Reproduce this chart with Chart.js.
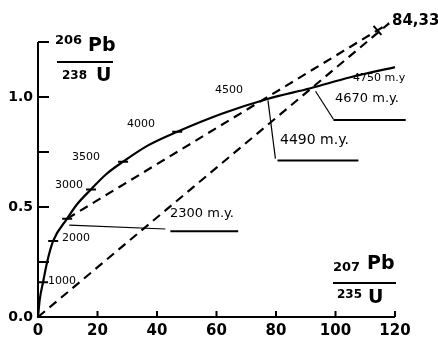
<!DOCTYPE html>
<html>
<head>
<meta charset="utf-8">
<script src="https://cdn.jsdelivr.net/npm/chart.js@4/dist/chart.umd.min.js"></script>
<style>
  body { margin: 0; background: #fff; }
  canvas { display: block; }
</style>
</head>
<body>
<canvas id="concordia" width="438" height="340"></canvas>
<script>
// concordia curve (207Pb/235U vs 206Pb/238U)
var concordiaX = [0, 0.6, 1.7, 3.0, 5.1, 9.8, 13, 17.8, 23, 28.6, 37, 46.8, 62, 77.1, 91.6, 105, 120];
var concordiaY = [0, 0.08, 0.158, 0.246, 0.346, 0.447, 0.51, 0.58, 0.65, 0.706, 0.78, 0.842, 0.925, 0.991, 1.04, 1.09, 1.136];

// age marks on the curve (m.y.)
var ageMarks = [1000, 2000, 2300, 3000, 3500, 4000];
var ageMarkX = [1.7, 5.1, 9.8, 17.8, 28.6, 46.8];
var ageMarkY = [0.158, 0.346, 0.447, 0.58, 0.706, 0.842];

// chords (dashed) to the sample point 84,33
var chordFromOriginX = [0, 118];
var chordFromOriginY = [0, 1.335];
var chordFrom2300X = [9.8, 118];
var chordFrom2300Y = [0.447, 1.335];
var sampleX = [114.1];
var sampleY = [1.303];

// leaders for the intercept labels
var leader2300X = [10.5, 42.8];
var leader2300Y = [0.418, 0.40];
var under2300X = [44.5, 67.3];
var under2300Y = [0.39, 0.39];
var leader4490X = [77.3, 79.8];
var leader4490Y = [0.985, 0.72];
var under4490X = [80.5, 107.7];
var under4490Y = [0.711, 0.711];
var leader4670X = [93.3, 99.3];
var leader4670Y = [1.026, 0.899];
var under4670X = [99.3, 123.6];
var under4670Y = [0.895, 0.895];

var xTicks = [20, 40, 60, 80, 100, 120];
var yTicks = [0.25, 0.5, 0.75, 1.0, 1.25];
var yLabels = [0, 0.5, 1.0];

function pts(xs, ys) {
    var out = [];
    for (var i = 0; i < xs.length; i++) out.push({x: xs[i], y: ys[i]});
    return out;
}

function solid(data, w) {
    return {data: data, borderColor: '#000', borderWidth: w, pointRadius: 0, fill: false, clip: false};
}

var FONT = '"DejaVu Sans", sans-serif';

// axes drawn inward, like the original figure
var axesPlugin = {
    id: 'axes',
    beforeDatasetsDraw: function(chart) {
        var ctx = chart.ctx, xs = chart.scales.x, ys = chart.scales.y;
        var x0 = xs.getPixelForValue(0), y0 = ys.getPixelForValue(0);
        ctx.save();
        ctx.strokeStyle = '#000';
        ctx.lineWidth = 2;
        ctx.beginPath();
        ctx.moveTo(x0, ys.getPixelForValue(1.25));
        ctx.lineTo(x0, y0);
        ctx.lineTo(xs.getPixelForValue(120), y0);
        var i;
        for (i = 0; i < xTicks.length; i++) {
            var px = xs.getPixelForValue(xTicks[i]);
            ctx.moveTo(px, y0);
            ctx.lineTo(px, y0 - 6);
        }
        for (i = 0; i < yTicks.length; i++) {
            var py = ys.getPixelForValue(yTicks[i]);
            ctx.moveTo(x0, py);
            ctx.lineTo(x0 + 11, py);
        }
        ctx.stroke();
        ctx.restore();
    },
    afterDraw: function(chart) {
        var ctx = chart.ctx;
        ctx.save();
        ctx.fillStyle = '#000';
        ctx.strokeStyle = '#000';
        ctx.textBaseline = 'middle';
        ctx.textAlign = 'left';

        // y title 206Pb / 238U
        ctx.font = 'bold 13px ' + FONT;
        ctx.fillText('206', 55, 41);
        ctx.font = 'bold 19px ' + FONT;
        ctx.fillText('Pb', 88, 46);
        ctx.font = 'bold 12px ' + FONT;
        ctx.fillText('238', 62, 76);
        ctx.font = 'bold 19px ' + FONT;
        ctx.fillText('U', 96, 76);
        ctx.lineWidth = 2;
        ctx.beginPath();
        ctx.moveTo(57, 62); ctx.lineTo(113, 62);
        // x title 207Pb / 235U
        ctx.moveTo(333, 283); ctx.lineTo(396, 283);
        ctx.stroke();
        ctx.font = 'bold 13px ' + FONT;
        ctx.fillText('207', 333, 268);
        ctx.font = 'bold 19px ' + FONT;
        ctx.fillText('Pb', 367, 264);
        ctx.font = 'bold 12px ' + FONT;
        ctx.fillText('235', 337, 295);
        ctx.font = 'bold 19px ' + FONT;
        ctx.fillText('U', 368, 298);

        // age labels on the curve
        ctx.font = '11px ' + FONT;
        ctx.fillText('1000', 48, 281);
        ctx.fillText('2000', 62, 238);
        ctx.fillText('3000', 55, 185);
        ctx.fillText('3500', 72, 157);
        ctx.fillText('4000', 127, 124);
        ctx.fillText('4500', 215, 90);
        ctx.fillText('4750 m.y', 353, 78);

        // intercepts
        ctx.font = '13px ' + FONT;
        ctx.fillText('2300 m.y.', 170, 214);
        ctx.fillText('4670 m.y.', 335, 99);
        ctx.font = '14px ' + FONT;
        ctx.fillText('4490 m.y.', 280, 140);
        ctx.font = 'bold 15px ' + FONT;
        ctx.fillText('84,33', 392, 21);
        ctx.restore();
    }
};

var marks = pts(ageMarkX, ageMarkY);

new Chart(document.getElementById('concordia'), {
    type: 'line',
    data: {
        datasets: [
            Object.assign(solid(pts(concordiaX, concordiaY), 2.2), {cubicInterpolationMode: 'monotone'}),
            {data: marks, showLine: false, pointStyle: 'line', pointRadius: 5, pointBorderWidth: 2,
             borderColor: '#000', backgroundColor: '#000', pointRotation: 0},
            Object.assign(solid(pts(chordFromOriginX, chordFromOriginY), 2.2), {borderDash: [9, 6]}),
            Object.assign(solid(pts(chordFrom2300X, chordFrom2300Y), 2.2), {borderDash: [9, 6]}),
            {data: pts(sampleX, sampleY), showLine: false, pointStyle: 'line', pointRadius: 6, pointBorderWidth: 2,
             borderColor: '#000', pointRotation: 49, clip: false},
            solid(pts(leader2300X, leader2300Y), 1.2),
            solid(pts(under2300X, under2300Y), 2),
            solid(pts(leader4490X, leader4490Y), 1.2),
            solid(pts(under4490X, under4490Y), 2),
            solid(pts(leader4670X, leader4670Y), 1.2),
            solid(pts(under4670X, under4670Y), 2)
        ]
    },
    options: {
        responsive: false,
        animation: false,
        devicePixelRatio: 1,
        layout: {padding: {left: 0, right: 43, top: 2, bottom: 0}},
        plugins: {legend: {display: false}, tooltip: {enabled: false}},
        scales: {
            x: {
                type: 'linear', min: 0, max: 120,
                grid: {display: false, drawTicks: false},
                border: {display: false},
                ticks: {stepSize: 20, color: '#000', padding: 5, font: {family: FONT, size: 15, weight: 'bold'}},
                afterFit: function(s) { s.height = 23; }
            },
            y: {
                type: 'linear', min: 0, max: 1.38,
                grid: {display: false, drawTicks: false},
                border: {display: false},
                afterBuildTicks: function(s) {
                    s.ticks = yLabels.map(function(v) { return {value: v}; });
                },
                ticks: {color: '#000', padding: 5, font: {family: FONT, size: 14, weight: 'bold'},
                        callback: function(v) { return Number(v).toFixed(1); }},
                afterFit: function(s) { s.width = 38; }
            }
        }
    },
    plugins: [axesPlugin]
});
</script>
</body>
</html>
